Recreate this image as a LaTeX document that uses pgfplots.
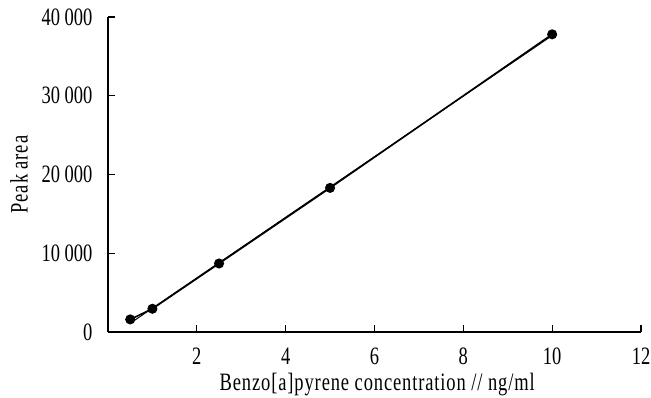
\documentclass[border=0pt]{standalone}
\usepackage{fontspec}
\setmainfont{Liberation Serif}[FakeStretch=0.74]
\newfontfamily\lab{Liberation Serif}[FakeStretch=0.74, LetterSpace=3.5]
\usepackage{pgfplots}
\pgfplotsset{compat=1.18}
\begin{document}
\begin{tikzpicture}[x=1pt,y=1pt]
\useasboundingbox (-108,-65) rectangle (543,332);
\begin{axis}[
  at={(0,0)}, anchor=south west,
  scale only axis, width=533pt, height=315pt,
  xmin=0, xmax=12, ymin=0, ymax=40000,
  scaled y ticks=false,
  axis x line*=bottom, axis y line*=left,
  axis line style={line width=1.2pt},
  xtick={2,4,6,8,10,12},
  ytick={0,10000,20000,30000,40000},
  yticklabels={0,10 000,20 000,30 000,40 000},
  tick style={line width=1.2pt, black},
  tick align=inside, major tick length=7pt,
  /pgf/number format/assume math mode=true,
  every tick label/.append style={font=\fontsize{25}{28}\selectfont},
  xticklabel style={anchor=center, yshift=-24pt},
  yticklabel style={anchor=east, xshift=-12pt},
  xlabel={Benzo[a]pyrene concentration // ng/ml},
  ylabel={Peak area},
  label style={font=\lab\fontsize{25}{28}\selectfont},
  xlabel style={at={(axis description cs:0.505,0)}, anchor=center, yshift=-53pt},
  ylabel style={at={(axis description cs:-0.167,0.5)}, anchor=center, rotate=0},
  clip=false,
]
\addplot[black, line width=1pt] coordinates {(0.5,1106) (10,37649)};
\addplot[black, line width=1.6pt, mark=*, mark size=4.2pt] coordinates {
  (0.5,1600) (1,2950) (2.5,8700) (5,18300) (10,37800)};
\end{axis}
\end{tikzpicture}
\end{document}
